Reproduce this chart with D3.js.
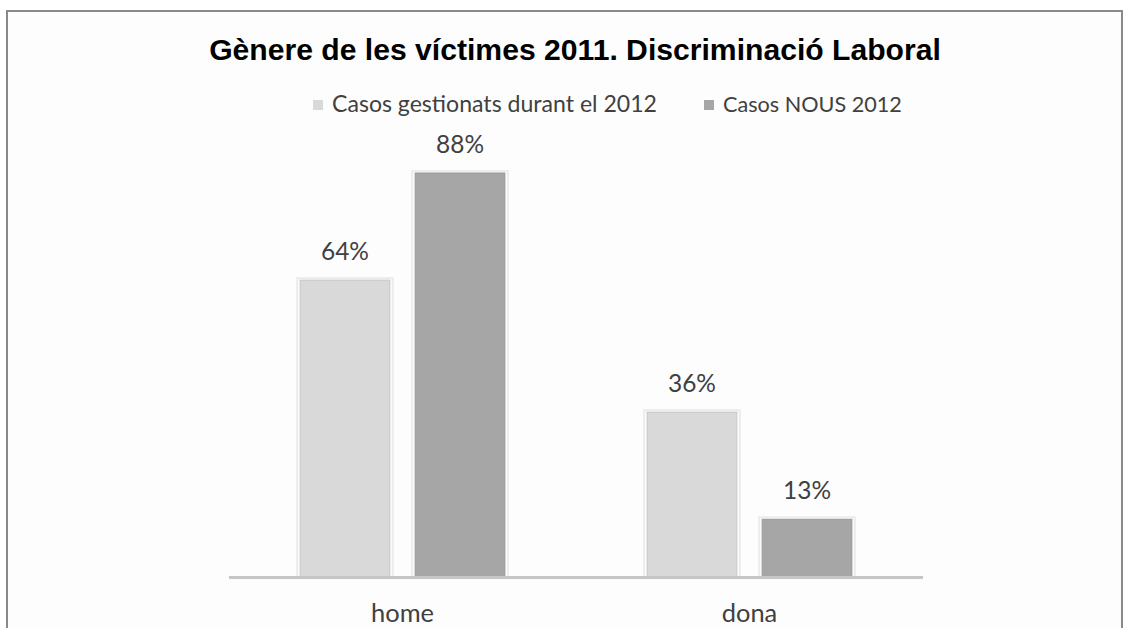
<!DOCTYPE html>
<html>
<head>
<meta charset="utf-8">
<script src="https://cdn.jsdelivr.net/npm/d3@7"></script>
<style>
  html, body { margin: 0; padding: 0; background: #fff; }
  svg { display: block; }
</style>
</head>
<body>
<svg id="chart" width="1133" height="628"></svg>
<script>
// ---- data ----
const title = "Gènere de les víctimes 2011. Discriminació Laboral";
const categories = ["home", "dona"];
const seriesNames = ["Casos gestionats durant el 2012", "Casos NOUS 2012"];
const gestionats = [64.3, 35.7];   // %
const nous = [87.5, 12.5];          // %
const seriesColors = ["#d9d9d9", "#a6a6a6"];

const seriesValues = [gestionats, nous];
const svg = d3.select("#chart");

// outer border
svg.append("rect").attr("x", 7).attr("y", 11).attr("width", 1115).attr("height", 660)
  .attr("fill", "#fdfdfd").attr("stroke", "#898989").attr("stroke-width", 2);

const baseY = 577;
const x0 = d3.scaleBand().domain(categories).range([229, 923]).paddingInner(0.41).paddingOuter(0.205);
const x1 = d3.scaleBand().domain(seriesNames).range([0, x0.bandwidth()]).paddingInner(0.22);
const y = d3.scaleLinear().domain([0, 100]).range([baseY, baseY - 461.7]);

function fitSize(fontFamily, text, base, target) {
  const tmp = svg.append("text").attr("font-family", fontFamily).attr("font-size", base).text(text);
  const w = tmp.node().getComputedTextLength();
  tmp.remove();
  return base * target / w;
}
function fit(sel, target) {
  const fs = parseFloat(sel.attr("font-size"));
  const w = sel.node().getComputedTextLength();
  sel.attr("font-size", (fs * target / w).toFixed(2));
}

// title
const t = svg.append("text").attr("x", 575).attr("y", 60).attr("text-anchor", "middle")
  .attr("font-family", "Liberation Sans, Arial, sans-serif").attr("font-weight", "bold")
  .attr("font-size", 24).attr("fill", "#000").text(title);
fit(t, 732);

// legend
const legFont = "Lato, 'Open Sans', sans-serif";
const legItems = [{x: 313, tx: 332, w: 325}, {x: 704, tx: 723, w: 179}];
seriesNames.forEach((s, i) => {
  svg.append("rect").attr("x", legItems[i].x).attr("y", 100).attr("width", 10).attr("height", 10)
    .attr("fill", seriesColors[i]);
  const lt = svg.append("text").attr("x", legItems[i].tx).attr("y", 112)
    .attr("font-family", legFont).attr("font-size", 19).attr("fill", "#404040").text(s);
  fit(lt, legItems[i].w);
});

const labelSize = fitSize(legFont, "88%", 20, 48);
const axisSize = fitSize(legFont, "home", 20, 63);

// bars
const groups = svg.append("g").selectAll("g").data(categories).join("g")
  .attr("transform", d => `translate(${x0(d)},0)`);

groups.each(function(cat, ci) {
  const g = d3.select(this);
  seriesNames.forEach((s, si) => {
    const v = seriesValues[si][ci];
    const bx = x1(s), bw = x1.bandwidth();
    // soft glow
    g.append("rect").attr("x", bx - 3).attr("y", y(v) - 2).attr("width", bw + 6).attr("height", baseY - y(v) + 2)
      .attr("fill", "none").attr("stroke", "#ececec").attr("stroke-width", 2);
    g.append("rect").attr("x", bx).attr("y", y(v)).attr("width", bw).attr("height", baseY - y(v))
      .attr("fill", seriesColors[si]).attr("stroke", d3.color(seriesColors[si]).darker(0.25)).attr("stroke-width", 1);
    g.append("text").attr("x", bx + bw / 2).attr("y", y(v) - 20).attr("text-anchor", "middle")
      .attr("font-family", legFont).attr("font-size", labelSize.toFixed(2)).attr("fill", "#404040")
      .text(Math.round(v) + "%");
  });
});

// baseline
svg.append("line").attr("x1", 229).attr("x2", 923).attr("y1", baseY + 0.5).attr("y2", baseY + 0.5)
  .attr("stroke", "#c6c6c6").attr("stroke-width", 3);

// category axis labels
const xAxis = d3.axisBottom(x0).tickSize(0).tickPadding(0);
const ax = svg.append("g").attr("transform", `translate(0,${baseY})`).call(xAxis);
ax.select(".domain").remove();
ax.attr("font-size", null).attr("font-family", null);
ax.selectAll("text").attr("y", 45).attr("dy", 0)
  .attr("font-family", legFont).attr("font-size", axisSize.toFixed(2)).attr("fill", "#404040");
</script>
</body>
</html>
